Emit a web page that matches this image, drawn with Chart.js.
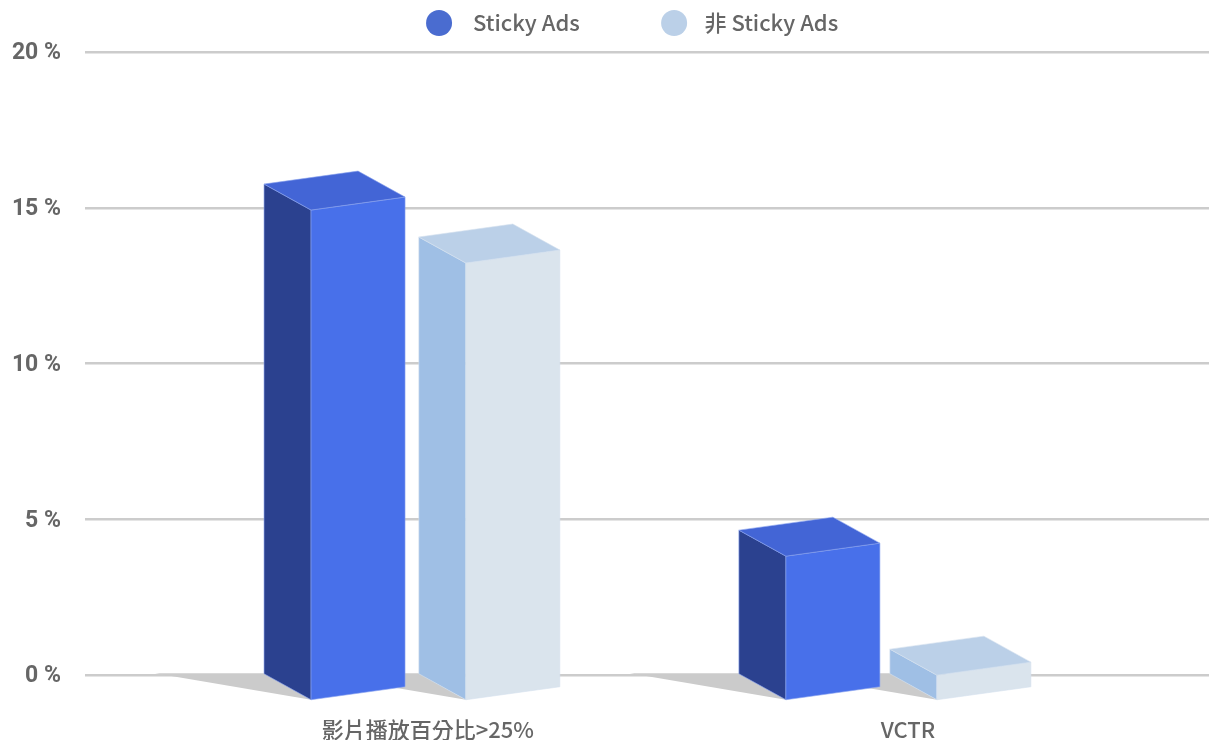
<!DOCTYPE html>
<html>
<head>
<meta charset="utf-8">
<script src="https://cdn.jsdelivr.net/npm/chart.js@4"></script>
<style>
  html, body { margin: 0; background: #fff; }
  canvas { display: block; }
</style>
</head>
<body>
<canvas id="chart" width="1209" height="740"></canvas>
<script>
//chart values
const categories = ["影片播放百分比>25%", "VCTR"];
const seriesNames = ["Sticky Ads", "非 Sticky Ads"];
const stickyValues = [15.76, 4.65];
const nonStickyValues = [14.06, 0.83];

//where things sit on the x axis, 1 unit is the distance between the two groups
const stickySlots = [0, 1];
const nonStickySlots = [0.326, 1.318];
const labelSlots = [0.246, 1.257];

//colours of each series: legend, front, side, top
const seriesColors = [
  { legend: "#4a6cd0", front: "#4870ea", side: "#2b418f", top: "#4365d6", edge: "#8aa2ee" },
  { legend: "#bbd0e8", front: "#dae4ed", side: "#9fbfe5", top: "#bbd0e8", edge: "#d5e1ef" },
];

//size of the fake 3D box
const depthX = 47;
const depthY = 26;
const skew = 13;
const shadowLength = 109;

//room above the plot that the legend does not move with
const legendLift = 8;

const fontCjk = '"Noto Sans CJK TC", "Noto Sans", sans-serif';

function poly(ctx, points, fill, edge) {
  ctx.beginPath();
  points.forEach((p, i) => (i ? ctx.lineTo(p[0], p[1]) : ctx.moveTo(p[0], p[1])));
  ctx.closePath();
  ctx.fillStyle = fill;
  ctx.fill();
  if (edge) {
    ctx.strokeStyle = edge;
    ctx.lineWidth = 0.6;
    ctx.stroke();
  }
}

//Plugin that paints every bar element as a box
const boxes = {
  id: "boxes",
  afterLayout(chart) {
    chart.legend.top -= legendLift;
    chart.legend.bottom -= legendLift;
  },
  beforeDatasetsDraw(chart) {
    //shadows go first so that no box is covered by one
    const ctx = chart.ctx;
    chart.getSortedVisibleDatasetMetas().forEach((meta) => {
      meta.data.forEach((bar) => {
        const left = bar.x - bar.width / 2;
        poly(ctx, [
          [left - shadowLength, bar.base - 0.5],
          [left + depthX, bar.base + depthY],
          [left, bar.base - 0.5],
        ], "#cbcbcb");
      });
    });
  },
  beforeDatasetDraw(chart, args) {
    const ctx = chart.ctx;
    const c = seriesColors[args.index];
    args.meta.data.forEach((bar) => {
      const w = bar.width;
      const left = bar.x - w / 2;
      const top = bar.y;
      const base = bar.base;
      poly(ctx, [
        [left, top],
        [left + depthX, top + depthY],
        [left + depthX, base + depthY],
        [left, base],
      ], c.side, c.edge);
      poly(ctx, [
        [left + depthX, top + depthY],
        [left + depthX + w, top + depthY - skew],
        [left + depthX + w, base + depthY - skew],
        [left + depthX, base + depthY],
      ], c.front, c.edge);
      poly(ctx, [
        [left, top],
        [left + w, top - skew],
        [left + depthX + w, top + depthY - skew],
        [left + depthX, top + depthY],
      ], c.top, c.edge);
    });
    return false;
  },
};

//spaces widen the legend items, chart.js has no separate setting for this
const legendPads = [["  ", "              "], [" \u200A", "      "]];

new Chart(document.getElementById("chart"), {
  type: "bar",
  plugins: [boxes],
  data: {
    datasets: [
      {
        label: seriesNames[0],
        data: stickyValues.map((y, i) => ({ x: stickySlots[i], y })),
        backgroundColor: seriesColors[0].legend,
        grouped: false,
        barThickness: 94,
      },
      {
        label: seriesNames[1],
        data: nonStickyValues.map((y, i) => ({ x: nonStickySlots[i], y })),
        backgroundColor: seriesColors[1].legend,
        grouped: false,
        barThickness: 94,
      },
    ],
  },
  options: {
    responsive: false,
    animation: false,
    layout: { padding: { top: legendLift, left: 0, right: 0, bottom: 0 } },
    plugins: {
      tooltip: false,
      legend: {
        position: "top",
        fullSize: false,
        labels: {
          usePointStyle: true,
          pointStyle: "circle",
          pointStyleWidth: 26,
          boxHeight: 18.4,
          padding: 12,
          color: "#666666",
          font: { family: fontCjk, size: 22, weight: "500" },
          generateLabels(chart) {
            const items = Chart.defaults.plugins.legend.labels.generateLabels(chart);
            items.forEach((item, i) => {
              item.text = legendPads[i][0] + item.text + legendPads[i][1];
              item.lineWidth = 0;
            });
            return items;
          },
        },
      },
    },
    scales: {
      x: {
        type: "linear",
        min: -0.476,
        max: 1.891,
        offset: false,
        grid: { display: false },
        border: { display: false },
        afterBuildTicks(scale) {
          scale.ticks = labelSlots.map((value) => ({ value }));
        },
        afterFit(scale) {
          scale.height = 65;
        },
        ticks: {
          autoSkip: false,
          maxRotation: 0,
          padding: 33,
          color: "#666666",
          font: { family: fontCjk, size: 22, weight: "500" },
          callback: (value, index) => categories[index],
        },
      },
      y: {
        min: 0,
        max: 20,
        grid: { color: "#cccccc", lineWidth: 2.5, drawTicks: false },
        border: { display: false },
        afterFit(scale) {
          scale.width = 85;
        },
        ticks: {
          stepSize: 5,
          padding: 24,
          labelOffset: 1.5,
          color: "#666666",
          font: { family: "Roboto, sans-serif", size: 23, weight: "bold" },
          callback: (value) => value + " %",
        },
      },
    },
  },
});
</script>
</body>
</html>
